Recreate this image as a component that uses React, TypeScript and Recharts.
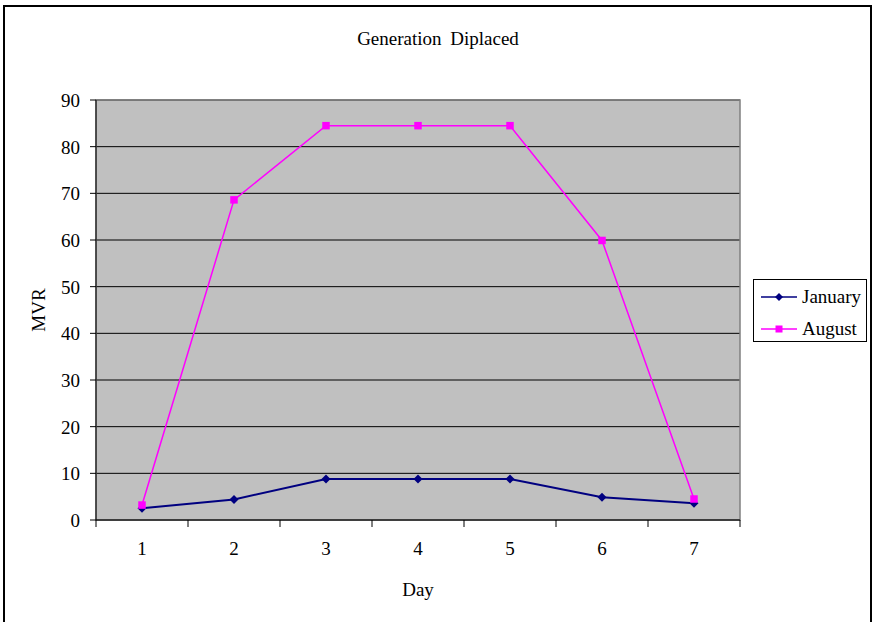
import React from 'react';
import {
  LineChart,
  Line,
  XAxis,
  YAxis,
  CartesianGrid,
  Legend,
  ReferenceArea
} from 'recharts';

// values
const days = ['1', '2', '3', '4', '5', '6', '7'];
const january = [2.5, 4.4, 8.8, 8.8, 8.8, 4.9, 3.6];
const august = [3.2, 68.6, 84.5, 84.5, 84.5, 59.9, 4.5];
const mvrTicks = [0, 10, 20, 30, 40, 50, 60, 70, 80, 90];
const seriesOrder = ['January', 'August'];

const data = days.map((day, i) => ({ day, January: january[i], August: august[i] }));

const W = 872;
const H = 622;
const PLOT = { left: 96, top: 100, right: 740, bottom: 520 };
const BAND = (PLOT.right - PLOT.left) / days.length;
const FONT = '"Liberation Serif", "Times New Roman", serif';
const NAVY = '#000080';
const MAGENTA = '#FF00FF';

// recharts passes its own r to dots, so the half-size has its own name
const Diamond = ({ cx, cy, color, half = 4.5 }: any) => (
  <polygon
    points={`${cx},${cy - half} ${cx + half},${cy} ${cx},${cy + half} ${cx - half},${cy}`}
    fill={color}
  />
);

const Square = ({ cx, cy, color, side = 7.5 }: any) => (
  <rect x={cx - side / 2} y={cy - side / 2} width={side} height={side} fill={color} />
);

const DayTick = ({ x, payload, index }: any) => (
  <g>
    <line x1={x - BAND / 2} x2={x - BAND / 2} y1={PLOT.bottom} y2={PLOT.bottom + 7} stroke="#000" />
    {index === days.length - 1 && (
      <line x1={x + BAND / 2} x2={x + BAND / 2} y1={PLOT.bottom} y2={PLOT.bottom + 7} stroke="#000" />
    )}
    <text x={x} y={PLOT.bottom + 35} textAnchor="middle" fontSize={19} fontFamily={FONT} fill="#000">
      {payload.value}
    </text>
  </g>
);

const MvrTick = ({ y, payload }: any) => (
  <text x={PLOT.left - 16} y={y + 7} textAnchor="end" fontSize={19} fontFamily={FONT} fill="#000">
    {payload.value}
  </text>
);

const renderLegend = ({ payload }: any) => {
  const items = [...(payload || [])].sort(
    (a: any, b: any) => seriesOrder.indexOf(a.dataKey) - seriesOrder.indexOf(b.dataKey)
  );
  return (
    <svg width={114} height={63} style={{ display: 'block' }}>
      <rect x={0.5} y={0.5} width={113} height={62} fill="#fff" stroke="#000" />
      {items.map((p: any, i: number) => {
        const y = 18 + i * 32;
        return (
          <g key={p.value}>
            <line x1={8} x2={44} y1={y} y2={y} stroke={p.color} strokeWidth={1.5} />
            {p.dataKey === 'January' ? (
              <Diamond cx={26} cy={y} color={p.color} half={4} />
            ) : (
              <Square cx={26} cy={y} color={p.color} side={7} />
            )}
            <text x={49} y={y + 6} fontSize={19} fontFamily={FONT} fill="#000">
              {p.value}
            </text>
          </g>
        );
      })}
    </svg>
  );
};

const App = () => {
  return (
    <div style={{ position: 'absolute', left: 0, top: 0, width: W, height: H, overflow: 'hidden', background: '#fff' }}>
      <div
        style={{
          position: 'absolute',
          left: 3,
          top: 5,
          width: 869,
          height: 700,
          border: '2px solid #000',
          boxSizing: 'border-box'
        }}
      />
      <LineChart
        width={W}
        height={H}
        data={data}
        margin={{ top: PLOT.top, right: W - PLOT.right, bottom: 0, left: 0 }}
        style={{ fontFamily: FONT }}
      >
        <CartesianGrid fill="#C0C0C0" fillOpacity={1} stroke="#000" vertical={false} />
        <ReferenceArea y1={0} y2={90} fill="none" stroke="#808080" strokeWidth={1.5} ifOverflow="visible" />
        <XAxis
          dataKey="day"
          scale="band"
          height={H - PLOT.bottom}
          axisLine={{ stroke: '#000' }}
          tickLine={false}
          tick={<DayTick />}
          interval={0}
          label={{ value: 'Day', position: 'insideBottom', offset: 26, fontSize: 19, fill: '#000', fontFamily: FONT }}
        />
        <YAxis
          width={PLOT.left}
          domain={[0, 90]}
          ticks={mvrTicks}
          interval={0}
          axisLine={{ stroke: '#000' }}
          tickLine={{ stroke: '#000' }}
          tickSize={6}
          tick={<MvrTick />}
          label={({ viewBox }: any) => (
            <text
              transform={`translate(45, ${viewBox.y + viewBox.height / 2}) rotate(-90)`}
              textAnchor="middle"
              fontSize={19}
              fontFamily={FONT}
              fill="#000"
            >
              MVR
            </text>
          )}
        />
        <Legend
          layout="vertical"
          align="center"
          verticalAlign="middle"
          wrapperStyle={{ left: 753, top: 279, width: 114, height: 63 }}
          content={renderLegend}
        />
        <Line
          type="linear"
          dataKey="January"
          stroke={NAVY}
          strokeWidth={2}
          dot={<Diamond color={NAVY} half={4.5} />}
          activeDot={false}
          isAnimationActive={false}
        />
        <Line
          type="linear"
          dataKey="August"
          stroke={MAGENTA}
          strokeWidth={1.5}
          dot={<Square color={MAGENTA} side={7.5} />}
          activeDot={false}
          isAnimationActive={false}
        />
      </LineChart>
      <svg
        width={W}
        height={60}
        style={{ position: 'absolute', left: 0, top: 0, pointerEvents: 'none' }}
      >
        <text x={438} y={45} textAnchor="middle" fontSize={19} fontFamily={FONT} fill="#000" wordSpacing={4}>
          Generation Diplaced
        </text>
      </svg>
    </div>
  );
};

export default App;
